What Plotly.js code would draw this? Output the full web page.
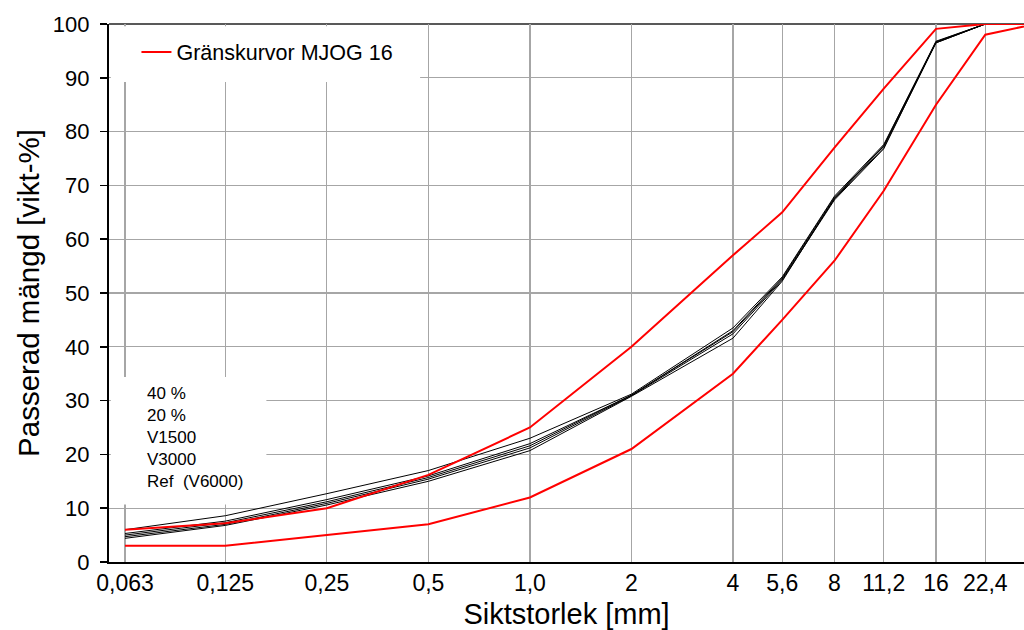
<!DOCTYPE html>
<html>
<head>
<meta charset="utf-8">
<script src="https://cdn.plot.ly/plotly-3.0.1.min.js"></script>
<style>html,body{margin:0;padding:0;background:#fff;}#chart{width:1024px;height:630px;}</style>
</head>
<body>
<div id="chart"></div>
<script>
// Sieve sizes (mm)
const sieveSizes = [0.063, 0.125, 0.25, 0.5, 1.0, 2, 4, 5.6, 8, 11.2, 16, 22.4, 31.5];
const tickValues = [0.063, 0.125, 0.25, 0.5, 1.0, 2, 4, 5.6, 8, 11.2, 16, 22.4];
const tickLabels = ["0,063", "0,125", "0,25", "0,5", "1,0", "2", "4", "5,6", "8", "11,2", "16", "22,4"];

// Limit curves MJOG 16 (passing %)
const limitName = "Gränskurvor MJOG 16";
const limitUpper = [6, 7.2, 10, 16.2, 25, 40, 57, 65, 77, 88, 99.1, 100, 100];
const limitLower = [3, 3, 5, 7, 12, 21, 35, 45, 56, 69, 85, 98, 100];

// Measured gradings (passing %)
const seriesNames = ["40 %", "20 %", "V1500", "V3000", "Ref  (V6000)"];
const s40 = [6.0, 8.6, 12.7, 17.0, 23.0, 31.2, 43.5, 53.0, 68.0, 77.6, 96.7, 100, 100];
const s20 = [5.3, 7.6, 11.6, 16.0, 22.0, 31.0, 43.0, 52.8, 67.8, 77.3, 96.5, 100, 100];
const sV1500 = [5.0, 7.3, 11.2, 15.7, 21.6, 31.0, 42.8, 52.6, 67.5, 77.0, 96.5, 100, 100];
const sV3000 = [4.7, 7.0, 10.9, 15.4, 21.2, 30.9, 42.4, 52.4, 67.3, 76.8, 96.6, 100, 100];
const sRef = [4.4, 6.8, 10.6, 15.0, 20.7, 30.8, 41.6, 52.2, 67.6, 77.4, 96.8, 100, 100];
const seriesValues = [s40, s20, sV1500, sV3000, sRef];

const FONT = "Liberation Sans, Arial, sans-serif";

const traces = [];
seriesValues.forEach((vals, i) => {
  traces.push({
    x: sieveSizes, y: vals, name: seriesNames[i], type: "scatter", mode: "lines",
    line: {color: "#000000", width: 1}, showlegend: false, hoverinfo: "x+y+name"
  });
});
traces.push({
  x: sieveSizes, y: limitUpper, name: limitName, type: "scatter", mode: "lines",
  line: {color: "#ff0000", width: 2}, showlegend: true, legendgroup: "lim"
});
traces.push({
  x: sieveSizes, y: limitLower, name: limitName, type: "scatter", mode: "lines",
  line: {color: "#ff0000", width: 2}, showlegend: false, legendgroup: "lim"
});

const layout = {
  width: 1024, height: 630,
  margin: {l: 109, r: 0, t: 24, b: 68, pad: 0},
  paper_bgcolor: "#ffffff", plot_bgcolor: "#ffffff",
  font: {family: FONT, color: "#000000"},
  showlegend: true,
  legend: {
    x: 0.03, xanchor: "left", y: 0.948, yanchor: "middle",
    bgcolor: "rgba(0,0,0,0)", borderwidth: 0,
    font: {family: FONT, size: 21.5, color: "#000000"},
    itemwidth: 30
  },
  xaxis: {
    type: "log",
    range: [-1.2481, 1.4651],
    tickmode: "array", tickvals: tickValues, ticktext: tickLabels,
    tickfont: {family: FONT, size: 23, color: "#000000"},
    ticks: "", showgrid: true, gridcolor: "#a6a6a6", gridwidth: 1.2,
    showline: true, linecolor: "#000000", linewidth: 1.5,
    zeroline: false, automargin: false,
    title: {text: "Siktstorlek [mm]", font: {family: FONT, size: 29, color: "#000000"}}
  },
  yaxis: {
    range: [0, 100], tick0: 0, dtick: 10, ticksuffix: "\u00a0",
    tickfont: {family: FONT, size: 22, color: "#000000"},
    ticks: "outside", ticklen: 7, tickwidth: 1.5, tickcolor: "#000000",
    showgrid: true, gridcolor: "#a6a6a6", gridwidth: 1.2,
    showline: true, linecolor: "#000000", linewidth: 2,
    zeroline: false, automargin: false,
    title: {text: "Passerad mängd [vikt-%]", font: {family: FONT, size: 29.5, color: "#000000"}}
  },
  shapes: [
    {type: "rect", xref: "paper", yref: "paper", x0: 0.002, x1: 0.34, y0: 0.892, y1: 0.996,
     fillcolor: "#ffffff", line: {width: 0}, layer: "above"},
    {type: "rect", xref: "paper", yref: "paper", x0: 0.002, x1: 0.172, y0: 0.107, y1: 0.344,
     fillcolor: "#ffffff", line: {width: 0}, layer: "above"},
    {type: "line", xref: "paper", yref: "paper", x0: 0, x1: 1, y0: 1, y1: 1,
     line: {color: "#595959", width: 2}, layer: "below"}
  ],
  annotations: [
    {xref: "paper", yref: "paper", x: 0.0395, y: 0.2305, xanchor: "left", yanchor: "middle",
     align: "left", showarrow: false, text: seriesNames.join("<br>"),
     font: {family: FONT, size: 17, color: "#000000"}}
  ]
};

Plotly.newPlot("chart", traces, layout, {displayModeBar: false, staticPlot: true});
</script>
</body>
</html>
